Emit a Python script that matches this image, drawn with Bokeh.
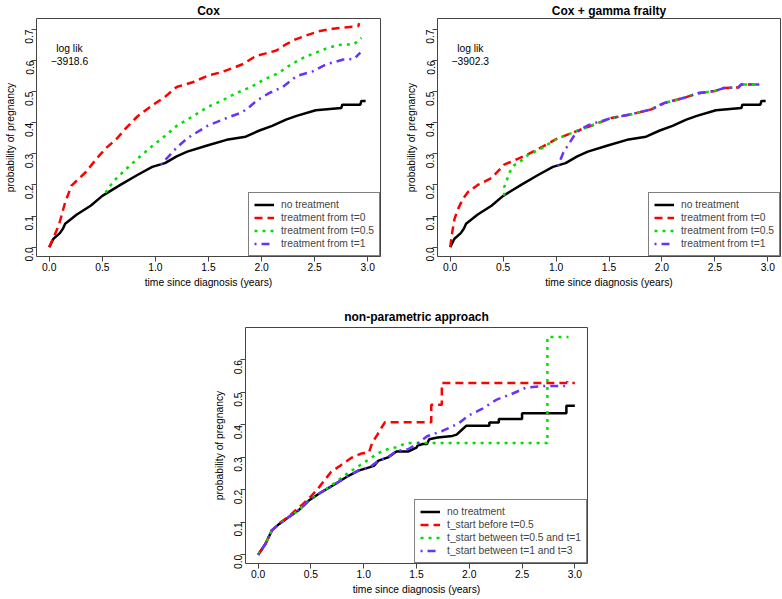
import math
from bokeh.plotting import figure
from bokeh.models import Range1d, FixedTicker, Legend, LegendItem, Spacer
from bokeh.layouts import column, row
from bokeh.embed import file_html
from bokeh.resources import INLINE

# ---------------- data ----------------
X_TICKS = [0.0, 0.5, 1.0, 1.5, 2.0, 2.5, 3.0]
Y_TICKS_TOP = [0.0, 0.1, 0.2, 0.3, 0.4, 0.5, 0.6, 0.7]
Y_TICKS_NP = [0.0, 0.1, 0.2, 0.3, 0.4, 0.5, 0.6]

LEGEND_COX = ["no treatment", "treatment from t=0", "treatment from t=0.5", "treatment from t=1"]
LEGEND_NP = ["no treatment", "t_start before t=0.5", "t_start between t=0.5 and t=1", "t_start between t=1 and t=3"]

TITLES = ["Cox", "Cox + gamma frailty", "non-parametric approach"]
LOGLIK = ["\u22123918.6", "\u22123902.3"]

# no treatment (baseline), shared by both Cox panels
base_x = [0, 0.04, 0.1, 0.13, 0.15, 0.26, 0.39, 0.5, 0.67, 0.83, 0.97, 1.09, 1.2, 1.3, 1.48, 1.67,
          1.85, 1.98, 2.1, 2.23, 2.33, 2.51, 2.75, 2.76, 2.93, 2.94, 2.98]
base_y = [0, 0.027, 0.045, 0.06, 0.075, 0.105, 0.133, 0.165, 0.2, 0.232, 0.258, 0.27, 0.292, 0.307,
          0.326, 0.345, 0.355, 0.375, 0.39, 0.41, 0.422, 0.44, 0.447, 0.458, 0.458, 0.47, 0.47]

# Cox
cox_t0_x = [0, 0.09, 0.15, 0.21, 0.34, 0.47, 0.54, 0.64, 0.72, 0.83, 0.98, 1.09, 1.2, 1.35, 1.5, 1.62,
            1.76, 1.82, 1.95, 2.03, 2.14, 2.23, 2.32, 2.45, 2.55, 2.67, 2.83, 2.91, 2.92]
cox_t0_y = [0, 0.07, 0.144, 0.198, 0.24, 0.294, 0.32, 0.35, 0.382, 0.42, 0.458, 0.483, 0.515, 0.53,
            0.552, 0.562, 0.58, 0.588, 0.615, 0.622, 0.632, 0.652, 0.668, 0.684, 0.695, 0.702, 0.708,
            0.71, 0.72]
cox_t05_x = [0.53, 0.6, 0.72, 0.85, 0.97, 1.1, 1.2, 1.35, 1.5, 1.62, 1.76, 1.9, 2.03, 2.16, 2.29, 2.4,
             2.51, 2.62, 2.73, 2.87, 2.94]
cox_t05_y = [0.175, 0.21, 0.25, 0.29, 0.325, 0.36, 0.39, 0.42, 0.452, 0.47, 0.495, 0.515, 0.54, 0.56,
             0.59, 0.61, 0.625, 0.64, 0.65, 0.652, 0.673]
cox_t1_x = [1.05, 1.12, 1.2, 1.3, 1.49, 1.67, 1.79, 1.86, 1.95, 2.07, 2.2, 2.33, 2.48, 2.61, 2.77, 2.87, 2.93]
cox_t1_y = [0.265, 0.29, 0.32, 0.35, 0.39, 0.415, 0.43, 0.443, 0.47, 0.495, 0.515, 0.55, 0.565, 0.588,
            0.603, 0.605, 0.625]

# Cox + gamma frailty
fr_t0_x = [0, 0.02, 0.04, 0.07, 0.12, 0.17, 0.26, 0.39, 0.51, 0.7, 0.83, 1.0, 1.2, 1.33, 1.52, 1.71,
           1.9, 2.02, 2.21, 2.34, 2.5, 2.59, 2.72, 2.75, 2.92]
fr_t0_y = [0, 0.05, 0.09, 0.12, 0.155, 0.178, 0.2, 0.222, 0.265, 0.293, 0.315, 0.347, 0.374, 0.39,
           0.415, 0.427, 0.443, 0.463, 0.48, 0.495, 0.502, 0.512, 0.513, 0.523, 0.523]
fr_t05_x = [0.51, 0.51, 0.56, 0.6, 0.67, 0.73, 0.79, 0.86, 1.0, 1.2, 1.33, 1.52, 1.71, 1.9, 2.02, 2.21,
            2.34, 2.5, 2.59, 2.72, 2.75, 2.92]
fr_t05_y = [0.165, 0.192, 0.24, 0.262, 0.278, 0.295, 0.305, 0.317, 0.347, 0.374, 0.39, 0.415, 0.427,
            0.443, 0.463, 0.48, 0.495, 0.502, 0.512, 0.513, 0.523, 0.523]
fr_t1_x = [1.02, 1.03, 1.07, 1.12, 1.17, 1.23, 1.31, 1.52, 1.71, 1.9, 2.02, 2.21, 2.34, 2.5, 2.59, 2.72,
           2.75, 2.92]
fr_t1_y = [0.26, 0.272, 0.305, 0.331, 0.358, 0.379, 0.393, 0.415, 0.427, 0.443, 0.463, 0.48, 0.495,
           0.502, 0.512, 0.513, 0.523, 0.523]

# non-parametric
np_none_x = [0, 0.07, 0.13, 0.2, 0.29, 0.38, 0.48, 0.6, 0.73, 0.86, 0.95, 1.06, 1.1, 1.14, 1.23, 1.31,
             1.42, 1.5, 1.51, 1.56, 1.6, 1.62, 1.7, 1.84, 1.88, 1.92, 1.97, 2.19, 2.19, 2.28, 2.28,
             2.5, 2.5, 2.92, 2.92, 3.0]
np_none_y = [0, 0.034, 0.075, 0.095, 0.116, 0.136, 0.167, 0.193, 0.218, 0.244, 0.259, 0.27, 0.275,
             0.29, 0.3, 0.318, 0.318, 0.33, 0.336, 0.341, 0.341, 0.356, 0.361, 0.366, 0.37, 0.382,
             0.397, 0.397, 0.407, 0.407, 0.418, 0.418, 0.436, 0.436, 0.459, 0.459]
np_early_x = [0, 0.07, 0.13, 0.2, 0.29, 0.35, 0.42, 0.5, 0.57, 0.63, 0.69, 0.78, 0.88, 0.98, 1.05,
              1.08, 1.13, 1.17, 1.2, 1.64, 1.64, 1.74, 1.74, 3.0]
np_early_y = [0, 0.034, 0.075, 0.097, 0.118, 0.136, 0.155, 0.18, 0.205, 0.23, 0.255, 0.275, 0.298,
              0.312, 0.315, 0.345, 0.37, 0.392, 0.408, 0.408, 0.462, 0.462, 0.529, 0.529]
np_mid_x = [0, 0.07, 0.13, 0.2, 0.29, 0.38, 0.48, 0.6, 0.73, 0.8, 0.88, 1.0, 1.1, 1.19, 1.32, 1.4,
            2.74, 2.74, 2.94]
np_mid_y = [0, 0.034, 0.075, 0.095, 0.116, 0.136, 0.167, 0.193, 0.222, 0.24, 0.258, 0.283, 0.305,
            0.322, 0.332, 0.344, 0.344, 0.671, 0.671]
np_late_x = [0, 0.07, 0.13, 0.2, 0.29, 0.38, 0.48, 0.6, 0.73, 0.86, 0.95, 1.06, 1.14, 1.23, 1.31, 1.42,
             1.5, 1.6, 1.75, 1.9, 2.0, 2.12, 2.26, 2.4, 2.54, 2.72, 2.92, 2.93]
np_late_y = [0, 0.034, 0.075, 0.095, 0.116, 0.136, 0.167, 0.193, 0.218, 0.244, 0.259, 0.27, 0.29, 0.3,
             0.32, 0.325, 0.34, 0.365, 0.382, 0.405, 0.43, 0.449, 0.478, 0.495, 0.515, 0.52, 0.52, 0.535]

# ---------------- styling ----------------
FONT = "Liberation Sans"
FS = "10.3px"
BOX = "#444444"
STYLES = [
    dict(color="black", line_dash="solid"),
    dict(color="#FF0000", line_dash="8 5"),
    dict(color="#00E000", line_dash="3 5"),
    dict(color="#6633FF", line_dash="2 5 8 5"),
]
LW = 2.5
X_LIM = (-0.12, 3.12)


def make_panel(title, width, height, ylim, yticks, bl, br, bt, bb, title_gap):
    p = figure(width=width, height=height, x_range=Range1d(*X_LIM), y_range=Range1d(*ylim),
               output_backend="svg", toolbar_location=None, title=title,
               min_border_left=bl, min_border_right=br, min_border_top=bt, min_border_bottom=bb,
               x_axis_label="time since diagnosis (years)", y_axis_label="probability of pregnancy")
    p.grid.visible = False
    p.outline_line_color = BOX
    p.outline_line_width = 1
    p.background_fill_color = "white"
    p.border_fill_color = "white"
    p.title.text_font = FONT
    p.title.text_font_size = "12px"
    p.title.text_font_style = "bold"
    p.title.text_color = "black"
    p.title.align = "center"
    p.title.standoff = title_gap
    p.xaxis.ticker = FixedTicker(ticks=X_TICKS)
    p.yaxis.ticker = FixedTicker(ticks=yticks)
    p.xaxis.major_label_overrides = {t: f"{t:.1f}" for t in X_TICKS}
    p.yaxis.major_label_overrides = {t: f"{t:.1f}" for t in yticks}
    p.yaxis.major_label_orientation = math.pi / 2
    for ax in p.axis:
        ax.axis_line_color = None
        ax.minor_tick_line_color = None
        ax.major_tick_line_color = BOX
        ax.major_tick_in = 0
        ax.major_tick_out = 5
        ax.axis_label_standoff = 3
        ax.major_label_text_font = FONT
        ax.major_label_text_font_size = FS
        ax.major_label_text_color = "black"
        ax.axis_label_text_font = FONT
        ax.axis_label_text_font_size = FS
        ax.axis_label_text_font_style = "normal"
        ax.axis_label_text_color = "black"
    p.xaxis.major_label_standoff = 1
    p.yaxis.major_label_standoff = 2
    return p


def add_curves(p, series, labels):
    items = []
    for (xs, ys), lab, st in zip(series, labels, STYLES):
        r = p.line(xs, ys, line_color=st["color"], line_width=LW, line_dash=st["line_dash"])
        items.append(LegendItem(label=lab, renderers=[r]))
    lg = Legend(items=items, location="bottom_right", margin=0, padding=5, spacing=0,
                glyph_width=20, glyph_height=13, label_height=13, label_standoff=7,
                label_text_font=FONT, label_text_font_size=FS,
                border_line_color="black", border_line_width=1,
                background_fill_color="white", background_fill_alpha=1.0)
    p.add_layout(lg)


def add_loglik(p, val):
    p.text(x=[0.19, 0.19], y=[0.64, 0.60], text=["log lik", val], text_align="center",
           text_baseline="middle", text_font_size=FS, text_color="black",
           text_font={"value": FONT})


TOP_LIM = (-0.03, 0.735)
# top row: frames at x 36-380 and 436-780, y 16-256
p1 = make_panel(TITLES[0], 402, 290, TOP_LIM, Y_TICKS_TOP, 36, 22, 16, 34, 2)
add_curves(p1, [(base_x, base_y), (cox_t0_x, cox_t0_y), (cox_t05_x, cox_t05_y), (cox_t1_x, cox_t1_y)],
           LEGEND_COX)
add_loglik(p1, LOGLIK[0])

p2 = make_panel(TITLES[1], 380, 290, TOP_LIM, Y_TICKS_TOP, 34, 2, 16, 34, 2)
add_curves(p2, [(base_x, base_y), (fr_t0_x, fr_t0_y), (fr_t05_x, fr_t05_y), (fr_t1_x, fr_t1_y)],
           LEGEND_COX)
add_loglik(p2, LOGLIK[1])

# bottom: frame at x 244-587, y 327-563
p3 = make_panel(TITLES[2], 381, 308, (-0.027, 0.70), Y_TICKS_NP, 34, 4, 37, 35, 7)
add_curves(p3, [(np_none_x, np_none_y), (np_early_x, np_early_y), (np_mid_x, np_mid_y),
                (np_late_x, np_late_y)], LEGEND_NP)

layout = column(row(p1, p2), row(Spacer(width=210, height=308), p3))

open("out.html", "w").write(file_html(layout, INLINE))
